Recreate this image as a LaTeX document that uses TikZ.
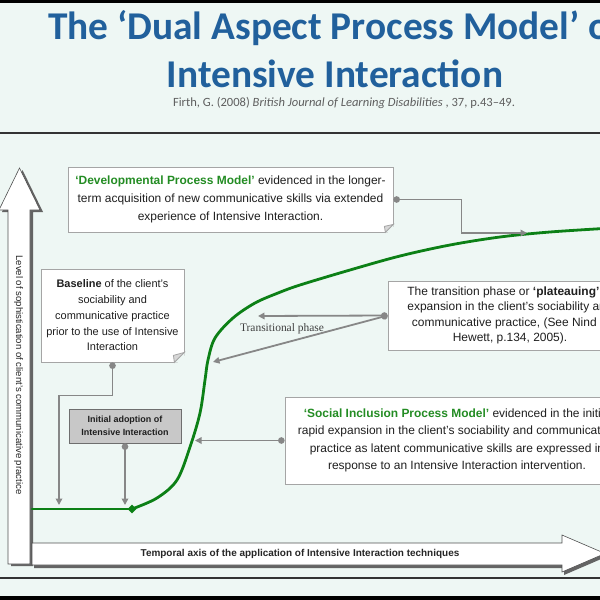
\documentclass[tikz,border=0pt]{standalone}
\usepackage{fontspec}
\setmainfont{Liberation Sans}
\newfontfamily\titlefont{Carlito}
\newfontfamily\serifx{Liberation Serif}
\usetikzlibrary{arrows.meta,shapes.geometric}
\definecolor{bgmint}{RGB}{238,247,244}
\definecolor{titleblue}{RGB}{33,96,156}
\definecolor{citegray}{RGB}{95,95,95}
\definecolor{tgreen}{RGB}{35,140,35}
\definecolor{cgreen}{RGB}{12,128,22}
\definecolor{conngray}{RGB}{135,135,135}
\definecolor{boxedge}{RGB}{165,165,165}
\definecolor{initfill}{RGB}{200,200,200}
\definecolor{initedge}{RGB}{110,110,110}
\definecolor{foldgray}{RGB}{215,215,215}
\definecolor{shadowgray}{RGB}{100,100,100}
\definecolor{arrowedge}{RGB}{80,80,80}
\tikzset{
  box/.style={draw=boxedge, line width=0.8bp, fill=white, align=center, inner sep=0pt, text=black!88},
  boxtext/.style={font=\fontsize{12}{#1}\selectfont},
  conn/.style={draw=conngray, line width=1.8bp, {Circle[length=6.5bp]}-{Triangle[length=6.5bp,width=6.5bp]}},
  sepline/.style={draw=black!80, line width=1.6bp},
  blockarrow/.style={fill=white, draw=arrowedge, line width=0.6bp},
  blockshadow/.style={fill=shadowgray},
  curve/.style={draw=cgreen, line width=2.8bp, line cap=round},
  titletext/.style={anchor=base, font=\titlefont\bfseries\fontsize{39.5}{40}\selectfont, text=titleblue, inner sep=0pt}
}
\begin{document}
\begin{tikzpicture}[x=1bp,y=-1bp]
\useasboundingbox (0,0) rectangle (600,600);
\clip (0,0) rectangle (600,600);
\fill[bgmint] (0,0) rectangle (600,600);
\fill[black] (0,0) rectangle (600,3.5);
\fill[black] (0,596) rectangle (600,600);

% title
\node[titletext] (title1) at (335,40) {The ‘Dual Aspect Process Model’ of};
\node[titletext] (title2) at (335,88) {Intensive Interaction};
\node[anchor=base, font=\titlefont\fontsize{12.6}{13}\selectfont, text=citegray, inner sep=0pt] (cite) at (344,107) {Firth, G. (2008) \textit{British Journal of Learning Disabilities} , 37, p.43–49.};

\draw[sepline] (0,133) -- (600,133);
\draw[sepline] (0,578) -- (600,578);

% vertical axis block arrow
\fill[blockshadow] (11,566) -- (11,212) -- (2,212) -- (22.5,170) -- (43,212) -- (33,212) -- (33,566) -- cycle;
\draw[blockarrow] (8,564) -- (8,210) -- (-1,210) -- (19.5,168) -- (40,210) -- (30,210) -- (30,564) -- cycle;
\node[rotate=-90, font=\fontsize{9.6}{10}\selectfont, text=black!85, inner sep=0pt] (ylabel) at (18.5,375) {Level of sophistication of client’s communicative practice};

% horizontal axis block arrow
\fill[blockshadow] (34,546) -- (564,546) -- (564,538) -- (607,556.5) -- (564,575) -- (564,568) -- (34,568) -- cycle;
\draw[blockarrow] (32,543) -- (562,543) -- (562,535) -- (605,553.5) -- (562,572) -- (562,565) -- (32,565) -- cycle;
\node[font=\bfseries\fontsize{10}{10}\selectfont, text=black!85, inner sep=0pt] (xlabel) at (300,554) {Temporal axis of the application of Intensive Interaction techniques};

% green curve
\draw[curve] (32,509) -- (132,509);
\draw[curve] plot[smooth, tension=0.55] coordinates {(132,509) (157,498) (177,480) (190,447) (200,413) (205,380) (208,360) (215,338) (233,318) (255,303) (278,293) (300,285) (350,270) (400,256) (450,245) (500,237) (550,232) (612,228)};
\node[diamond, fill=cgreen, minimum size=9bp, inner sep=0pt] (start) at (132,509) {};

% Developmental box
\node[box, minimum width=325bp, minimum height=65bp, boxtext=18] (dev) at (230.5,199.5)
 {{\bfseries\color{tgreen}‘Developmental Process Model’} evidenced in the longer-\\term acquisition of new communicative skills via extended\\experience of Intensive Interaction.};
\fill[bgmint] ([xshift=-8.5bp]dev.south east) -- ([xshift=1bp,yshift=-1bp]dev.south east) -- ([yshift=8.5bp]dev.south east) -- cycle;
\filldraw[fill=foldgray, draw=boxedge, line width=0.8bp] ([xshift=-8bp]dev.south east) -- ([yshift=8bp]dev.south east) -- ([xshift=-9bp,yshift=6bp]dev.south east) -- cycle;

% Baseline box
\node[box, minimum width=143bp, minimum height=93bp, font=\fontsize{11}{15.8}\selectfont] (base) at (112.5,315.5)
 {\textbf{Baseline} of the client’s\\sociability and\\communicative practice\\prior to the use of Intensive\\Interaction};
\fill[bgmint] ([xshift=-10.5bp]base.south east) -- ([xshift=1bp,yshift=-1bp]base.south east) -- ([yshift=10.5bp]base.south east) -- cycle;
\filldraw[fill=foldgray, draw=boxedge, line width=0.8bp] ([xshift=-10bp]base.south east) -- ([yshift=10bp]base.south east) -- ([xshift=-11bp,yshift=7bp]base.south east) -- cycle;

% Initial adoption box
\node[box, fill=initfill, draw=initedge, minimum width=112bp, minimum height=34bp, font=\bfseries\fontsize{9}{13}\selectfont] (init) at (125,426)
 {Initial adoption of\\Intensive Interaction};

% Transition box
\node[box, minimum width=244bp, minimum height=69bp, boxtext=15.3] (trans) at (510,315.5)
 {The transition phase or \textbf{‘plateauing’} of\\expansion in the client’s sociability and\\communicative practice, (See Nind \&\\Hewett, p.134, 2005).};

% Social Inclusion box
\node[box, minimum width=344bp, minimum height=87bp, boxtext=17.3] (soc) at (457,440.5)
 {{\bfseries\color{tgreen}‘Social Inclusion Process Model’} evidenced in the initial\\rapid expansion in the client’s sociability and communicative\\practice as latent communicative skills are expressed in\\response to an Intensive Interaction intervention.};

% connector end points on / near the curve
\coordinate (devtip) at (527,233);
\coordinate (basetip) at (59,505);
\coordinate (inittip) at (125,505);
\coordinate (soctip) at (195,440.5);
\coordinate (trtipa) at (258,316);
\coordinate (trtipb) at (213,362);

\draw[conn] (dev.east) -- ++(68,0) |- (devtip);
\draw[conn] (base.south) -- ++(0,33) -| (basetip);
\draw[conn] (init.south) -- (inittip);
\draw[conn] (soc.west) -- (soctip);
\draw[conn] (trans.west) -- (trtipa);
\draw[conn] (trans.west) -- (trtipb);

\node[font=\serifx\fontsize{11.5}{12}\selectfont, text=black!75, inner sep=0pt] (trlabel) at (282,329) {Transitional phase};
\end{tikzpicture}
\end{document}
